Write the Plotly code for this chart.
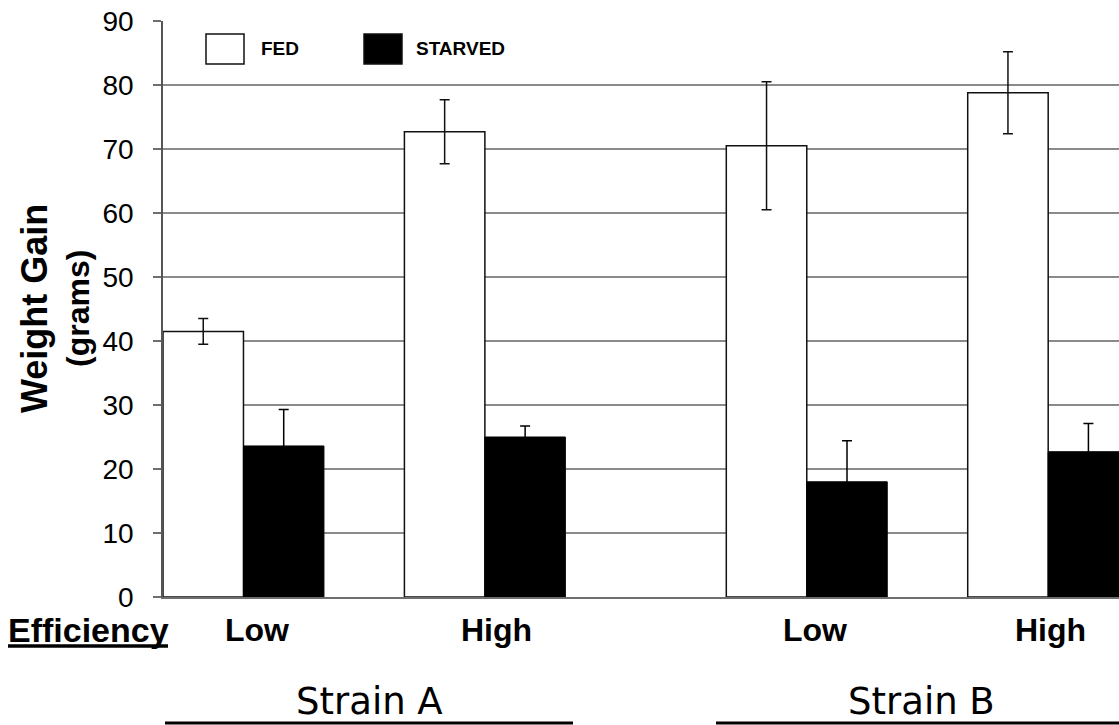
import plotly.graph_objects as go

# ---- data ----
strains = ["Strain A", "Strain A", "Strain B", "Strain B"]
efficiency = ["Low", "High", "Low", "High"]
fed = [41.5, 72.7, 70.5, 78.8]
fed_err = [2.0, 5.0, 10.0, 6.4]
starved = [23.6, 25.0, 18.0, 22.7]
starved_err = [5.7, 1.7, 6.4, 4.4]
y_ticks = [0, 10, 20, 30, 40, 50, 60, 70, 80, 90]

# ---- layout geometry (pixels) ----
W, H = 1119, 725
L, R, T, B = 163, 0, 21, 128
PW, PH = W - L - R, H - T - B
X_RANGE = [0, 11.88]

def px_to_paper_x(px):
    return (px - L) / PW

def px_to_paper_y(py):
    return (H - B - py) / PH

# group centres: one empty slot between efficiency groups, two between strains
centres = []
c = 1.0
for i, s in enumerate(strains):
    if i > 0:
        c += 3 if strains[i] == strains[i - 1] else 4
    centres.append(c)

fed_x = [c - 0.5 for c in centres]
starved_x = [c + 0.5 for c in centres]

FONT = "Arial, Liberation Sans, sans-serif"

fig = go.Figure()
fig.add_trace(go.Bar(
    x=fed_x, y=fed, width=1.0, name="FED",
    marker=dict(color="white", line=dict(color="#111111", width=1.5)),
    error_y=dict(type="data", array=fed_err, visible=True,
                 color="#111111", thickness=1.5, width=5),
    showlegend=False,
))
fig.add_trace(go.Bar(
    x=starved_x, y=starved, width=1.0, name="STARVED",
    marker=dict(color="black", line=dict(color="black", width=1)),
    error_y=dict(type="data", array=starved_err, visible=True,
                 color="#000000", thickness=1.5, width=5),
    showlegend=False,
))

annotations = []
shapes = []

# category labels (Low / High)
label_shift = [0.17, 0.14, 0.1, 0.03]
for c, e, s in zip(centres, efficiency, label_shift):
    annotations.append(dict(
        x=c + s, y=0, xref="x", yref="y", text=f"<b>{e}</b>",
        showarrow=False, yshift=-33, xanchor="center", yanchor="middle",
        font=dict(family=FONT, size=32, color="black"),
    ))

# Efficiency label with thick underline
annotations.append(dict(
    x=px_to_paper_x(88), y=0, xref="paper", yref="y",
    text="<b>Efficiency</b>", showarrow=False, yshift=-33,
    xanchor="center", yanchor="middle",
    font=dict(family=FONT, size=34, color="black"),
))
shapes.append(dict(
    type="line", xref="paper", yref="paper",
    x0=px_to_paper_x(8), x1=px_to_paper_x(168),
    y0=px_to_paper_y(646), y1=px_to_paper_y(646),
    line=dict(color="black", width=3.5),
))

# Strain labels and lines underneath
strain_lines = {"Strain A": (165, 573), "Strain B": (716, 1119)}
for name, (x0, x1) in strain_lines.items():
    annotations.append(dict(
        x=px_to_paper_x((x0 + x1) / 2 + (0 if name == "Strain A" else 4)),
        y=px_to_paper_y(701),
        xref="paper", yref="paper", text=name, showarrow=False,
        xanchor="center", yanchor="middle",
        font=dict(family="DejaVu Sans, Verdana, sans-serif", size=37, color="black"),
    ))
    shapes.append(dict(
        type="line", xref="paper", yref="paper",
        x0=px_to_paper_x(x0), x1=px_to_paper_x(x1),
        y0=px_to_paper_y(723), y1=px_to_paper_y(723),
        line=dict(color="black", width=3),
    ))

# y-axis title (two lines, different sizes)
annotations.append(dict(
    x=px_to_paper_x(34), y=0.5, xref="paper", yref="paper",
    text="<b>Weight Gain</b>", textangle=-90, showarrow=False,
    xanchor="center", yanchor="middle",
    font=dict(family=FONT, size=36, color="black"),
))
annotations.append(dict(
    x=px_to_paper_x(78), y=0.5, xref="paper", yref="paper",
    text="<b>(grams)</b>", textangle=-90, showarrow=False,
    xanchor="center", yanchor="middle",
    font=dict(family=FONT, size=32, color="black"),
))

# legend drawn inside plot
legend_items = [("FED", "white", 206, 244, 259), ("STARVED", "black", 364, 402, 414)]
for name, col, bx0, bx1, tx in legend_items:
    shapes.append(dict(
        type="rect", xref="paper", yref="paper",
        x0=px_to_paper_x(bx0), x1=px_to_paper_x(bx1),
        y0=px_to_paper_y(64), y1=px_to_paper_y(34),
        fillcolor=col, line=dict(color="#111111", width=1.5),
    ))
    annotations.append(dict(
        x=px_to_paper_x(tx), y=px_to_paper_y(48), xref="paper", yref="paper",
        text=f"<b>{name}</b>", showarrow=False, xanchor="left", yanchor="middle",
        font=dict(family=FONT, size=19, color="black"),
    ))

fig.update_layout(
    width=W, height=H,
    margin=dict(l=L, r=R, t=T, b=B, pad=0),
    paper_bgcolor="white", plot_bgcolor="white",
    barmode="overlay",
    annotations=annotations, shapes=shapes,
    xaxis=dict(range=X_RANGE, showticklabels=False, ticks="",
               showgrid=False, zeroline=False, showline=True,
               linecolor="#6e6e6e", linewidth=1.5, fixedrange=True),
    yaxis=dict(range=[0, 90], tickvals=y_ticks, ticks="outside", ticklen=8,
               tickcolor="#6e6e6e", tickwidth=1.5, ticklabelstandoff=14,
               showgrid=True, gridcolor="#8a8a8a", gridwidth=1.5,
               zeroline=False, showline=True, linecolor="#555555", linewidth=1.5,
               tickfont=dict(family=FONT, size=28, color="black"),
               fixedrange=True),
)

fig.write_html("out.html")
